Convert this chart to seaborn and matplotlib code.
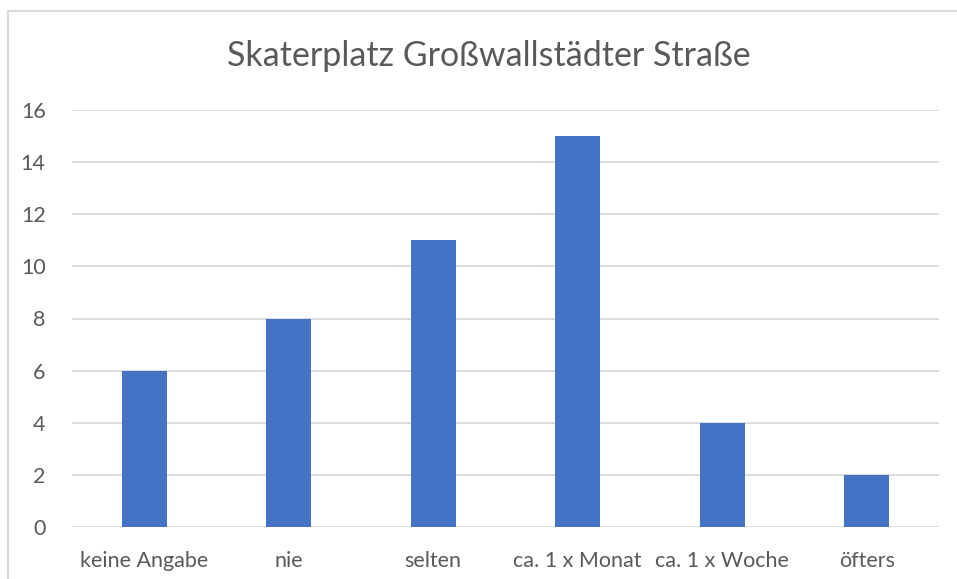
import matplotlib
matplotlib.use("Agg")
import pandas as pd
import seaborn as sns
from matplotlib import pyplot as plt
from matplotlib.patches import Rectangle

sns.set_theme(style="white")
plt.rcParams['font.family'] = ['Lato', 'DejaVu Sans']

categories = ['keine Angabe', 'nie', 'selten', 'ca. 1 x Monat', 'ca. 1 x Woche', 'öfters']
counts = [6, 8, 11, 15, 4, 2]
yticks = [0, 2, 4, 6, 8, 10, 12, 14, 16]

df = pd.DataFrame({'Antwort': categories, 'Anzahl': counts})

text_col = '#595959'
grid_col = '#D9D9D9'

fig = plt.figure(figsize=(9.57, 5.79), dpi=100)
ax = fig.add_axes([72 / 957, 1 - 527 / 579, (939 - 72) / 957, (527 - 110) / 579])

sns.barplot(data=df, x='Antwort', y='Anzahl', color='#4472C4', saturation=1,
            width=0.31, linewidth=0, ax=ax, zorder=3)

ax.set_ylim(0, 16)
ax.set_xlim(-0.5, len(categories) - 0.5)
ax.set_yticks(yticks)
for y in yticks:
    ax.axhline(y, color=grid_col, lw=1.3, zorder=1)
for s in ax.spines.values():
    s.set_visible(False)
ax.tick_params(axis='both', length=0, colors=text_col, labelsize=15.5)
ax.tick_params(axis='y', pad=19)
ax.tick_params(axis='x', pad=17)
ax.set_xlabel('')
ax.set_ylabel('')

fig.text(489 / 957, 1 - 56 / 579, 'Skaterplatz Großwallstädter Straße',
         ha='center', va='center', fontsize=24.5, color=text_col)

fig.patches.append(Rectangle((8 / 957, -0.1), 1.5, 1 - 11 / 579 + 0.1,
                             transform=fig.transFigure, fill=False,
                             edgecolor=grid_col, lw=1.5))

fig.savefig('out.png', dpi=100, facecolor='white')
